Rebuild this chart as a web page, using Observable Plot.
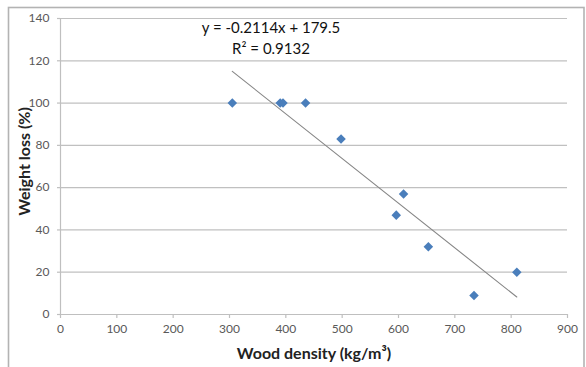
<!DOCTYPE html>
<html>
<head>
<meta charset="utf-8">
<script src="https://cdn.jsdelivr.net/npm/d3@7"></script>
<script src="https://cdn.jsdelivr.net/npm/@observablehq/plot@0.6"></script>
<style>
  html, body { margin: 0; padding: 0; background: #fff; }
  #chart { position: relative; width: 586px; height: 367px; overflow: hidden; }
</style>
</head>
<body>
<div id="chart"></div>
<script>
// Data
const density = [305, 390, 395, 435, 498, 596, 609, 653, 734, 810];   // kg/m³
const weightLoss = [100, 100, 100, 100, 83, 47, 57, 32, 9, 20];      // %
const xTicks = [0, 100, 200, 300, 400, 500, 600, 700, 800, 900];
const yTicks = [0, 20, 40, 60, 80, 100, 120, 140];
const equationText = "y = -0.2114x + 179.5";
const r2Text = "R² = 0.9132";
const xTitle = "Wood density (kg/m³)";
const yTitle = "Weight loss (%)";

const data = density.map((d, i) => ({density: d, loss: weightLoss[i]}));

const font = "Lato, 'Open Sans', sans-serif";

const plot = Plot.plot({
  width: 586,
  height: 367,
  marginLeft: 60,
  marginRight: 19,
  marginTop: 18,
  marginBottom: 53,
  style: {fontFamily: font, background: "#fff", overflow: "visible"},
  x: {domain: [0, 900], ticks: xTicks},
  y: {domain: [0, 140], ticks: yTicks},
  marks: [
    Plot.gridY(yTicks, {stroke: "#c0c0c0", strokeOpacity: 1, strokeWidth: 1.2}),
    Plot.ruleX([0], {stroke: "#bfbfbf", strokeWidth: 1.2}),
    Plot.ruleY([0], {stroke: "#bfbfbf", strokeWidth: 1.2}),
    Plot.axisX(xTicks, {
      tickSize: 4, tickPadding: 6, stroke: "#bfbfbf", strokeWidth: 1.2,
      fill: "#595959", fontSize: 12, label: null
    }),
    Plot.axisY(yTicks, {
      tickSize: 3, tickPadding: 8, stroke: "#bfbfbf", strokeWidth: 1.2,
      fill: "#595959", fontSize: 12, label: null
    }),
    Plot.linearRegressionY(data, {
      x: "density", y: "loss", ci: 0, stroke: "#868686", strokeWidth: 1.1
    }),
    Plot.dot(data, {
      x: "density", y: "loss", symbol: "square", r: 3.8, rotate: 45,
      fill: "#4a7ebb", stroke: "none"
    }),
    Plot.text([`${equationText}\n${r2Text}`], {
      frameAnchor: "top", dx: -43, dy: 0, lineAnchor: "top",
      lineHeight: 1.4, fontSize: 15, fill: "#111", textAnchor: "middle"
    }),
    Plot.text([xTitle], {
      frameAnchor: "bottom", dy: 39, lineAnchor: "middle",
      fontSize: 16, fontWeight: "bold", fill: "#222"
    }),
    Plot.text([yTitle], {
      frameAnchor: "left", dx: -36, dy: -5, rotate: -90, lineAnchor: "middle",
      textAnchor: "middle",
      fontSize: 16, fontWeight: "bold", fill: "#222"
    })
  ]
});

document.getElementById("chart").appendChild(plot);

// outer chart-area border
d3.select(plot).append("rect")
  .attr("x", 8.5).attr("y", 7.5)
  .attr("width", 575.5).attr("height", 362)
  .attr("fill", "none")
  .attr("stroke", "#b3b3b3")
  .attr("stroke-width", 1.6);
</script>
</body>
</html>
